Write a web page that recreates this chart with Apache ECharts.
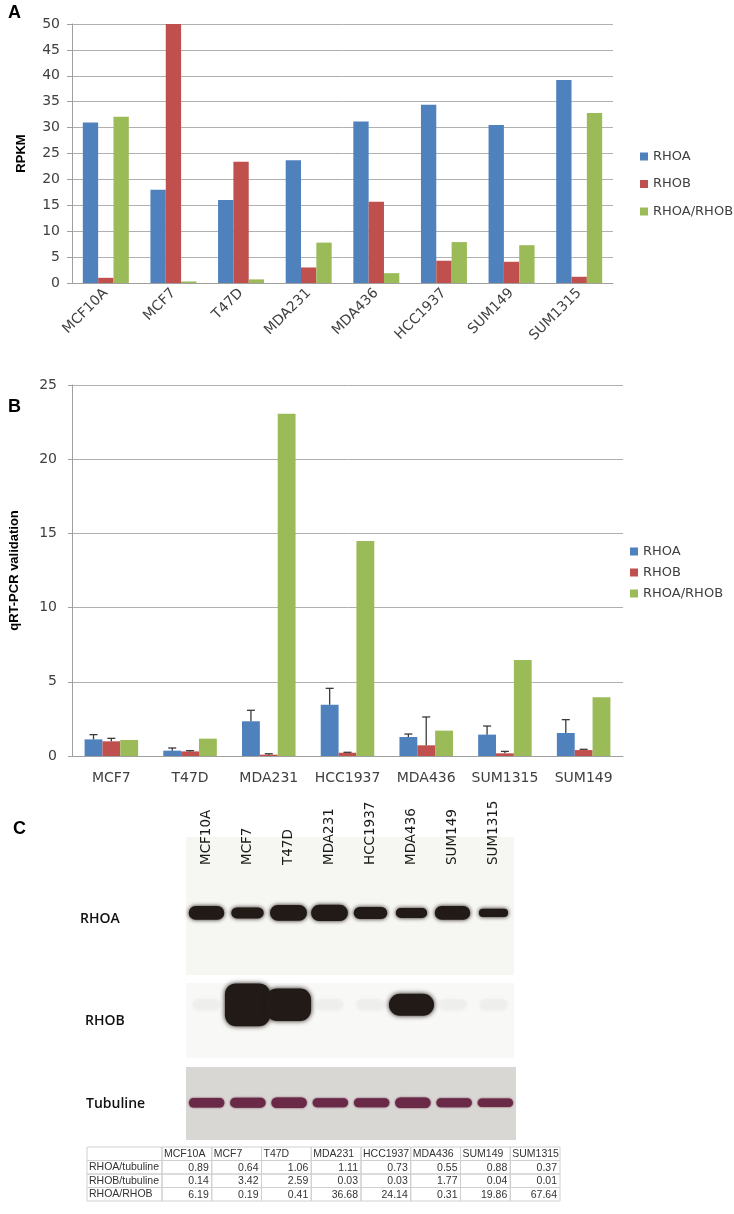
<!DOCTYPE html>
<html>
<head>
<meta charset="utf-8">
<script src="https://cdn.jsdelivr.net/npm/echarts@6/dist/echarts.min.js"></script>
<style>html,body{margin:0;padding:0;background:#fff}#c{width:734px;height:1214px}</style>
</head>
<body>
<div id="c"></div>
<script>
// ---------- Panel A : RNA-seq RPKM ----------
const cellLinesA = ['MCF10A','MCF7','T47D','MDA231','MDA436','HCC1937','SUM149','SUM1315'];
const rpkmRHOA  = [31.0, 18.0, 16.0, 23.7, 31.2, 34.4, 30.5, 39.2];
const rpkmRHOB  = [1.0, 50.0, 23.4, 3.0, 15.7, 4.3, 4.1, 1.2];
const rpkmRatio = [32.1, 0.3, 0.7, 7.8, 1.9, 7.9, 7.3, 32.8];

// ---------- Panel B : qRT-PCR validation ----------
const cellLinesB = ['MCF7','T47D','MDA231','HCC1937','MDA436','SUM1315','SUM149'];
const qpcrRHOA    = [1.12, 0.36, 2.34, 3.46, 1.28, 1.44, 1.55];
const qpcrRHOAerr = [0.32, 0.18, 0.74, 1.10, 0.20, 0.58, 0.90];
const qpcrRHOB    = [0.99, 0.31, 0.09, 0.22, 0.72, 0.18, 0.40];
const qpcrRHOBerr = [0.20, 0.05, 0.06, 0.03, 1.91, 0.13, 0.05];
const qpcrRatio   = [1.08, 1.17, 23.07, 14.48, 1.71, 6.47, 3.96];

// ---------- Panel C : western blot quantification ----------
const blotLanes    = ['MCF10A','MCF7','T47D','MDA231','HCC1937','MDA436','SUM149','SUM1315'];
const rhoaTubulin  = [0.89, 0.64, 1.06, 1.11, 0.73, 0.55, 0.88, 0.37];
const rhobTubulin  = [0.14, 3.42, 2.59, 0.03, 0.03, 1.77, 0.04, 0.01];
const rhoaRhob     = [6.19, 0.19, 0.41, 36.68, 24.14, 0.31, 19.86, 67.64];
const tubulinLevel = [1.0, 1.05, 1.1, 0.95, 0.95, 1.1, 0.95, 0.9]; // estimated loading band strength
const tableRows    = ['RHOA/tubuline','RHOB/tubuline','RHOA/RHOB'];

const seriesNames = ['RHOA','RHOB','RHOA/RHOB'];
const COLORS = ['#4F81BD','#C0504D','#9BBB59'];
const TICK_FONT = 'DejaVu Sans';
const AXIS_TEXT = '#404040';
const GRID_LINE = '#b0b0b0';

const chart = echarts.init(document.getElementById('c'), null, {renderer:'canvas'});

function errorRender(offset){
  return function(params, api){
    const cat = api.value(0), m = api.value(1), e = api.value(2);
    const band = api.size([1,0])[0];
    const bw = band*0.68/3;
    const cx = api.coord([cat,0])[0] + offset*bw;
    const y1 = api.coord([cat,m])[1];
    const y2 = api.coord([cat,m+e])[1];
    const st = {stroke:'#3a3a3a', lineWidth:1.3};
    return {type:'group', children:[
      {type:'line', shape:{x1:cx,y1:y1,x2:cx,y2:y2}, style:st},
      {type:'line', shape:{x1:cx-4,y1:y2,x2:cx+4,y2:y2}, style:st}
    ]};
  };
}

function bandRender(kind){
  return function(params, api){
    const cs = params.coordSys;
    const i = api.value(0), v = api.value(1);
    const lane = api.size([1,0])[0];
    const cx = api.coord([i,0])[0];
    let w, h, cy, fill, op = 1, blur = 4, r;
    if (kind === 'rhoa'){
      h = 4 + 11*v; w = lane*(0.6 + 0.3*Math.min(v,1));
      cy = cs.y + cs.height*0.55; fill = '#221a16'; r = h/2;
    } else if (kind === 'rhob'){
      if (v >= 0.5){ h = 12.5*v; w = lane*1.1; op = 1; }
      else { h = 12; w = lane*0.7; op = 0.025; }
      cy = cs.y + cs.height*0.29; fill = '#221a16'; r = Math.min(h/2, 11); blur = 5;
    } else {
      h = 9.5*v; w = lane*0.86; cy = cs.y + cs.height*0.49; fill = '#6a2a47'; blur = 2; r = h/2;
    }
    return {type:'rect', shape:{x:cx-w/2, y:cy-h/2, width:w, height:h, r:r},
      style:{fill:fill, opacity:op, shadowBlur:blur, shadowColor:fill}};
  };
}

const tableCells = [];
blotLanes.forEach((n,c)=>tableCells.push({c:c, r:0, text:n, head:true}));
[rhoaTubulin, rhobTubulin, rhoaRhob].forEach((arr,ri)=>arr.forEach((v,c)=>tableCells.push({c:c, r:ri+1, text:v.toFixed(2), head:false})));

function tableRender(params, api){
  const cell = tableCells[params.dataIndex];
  const p = api.coord([cell.c, cell.r]);
  const s = api.size([1,1]);
  const x = p[0]-s[0]/2, y = p[1]-s[1]/2;
  const kids = [{type:'rect', shape:{x:x,y:y,width:s[0],height:s[1]}, style:{fill:'none', stroke:'#d0d0d0', lineWidth:1}}];
  if (cell.c === 0){
    kids.push({type:'rect', shape:{x:x-75,y:y,width:75,height:s[1]}, style:{fill:'none', stroke:'#d0d0d0', lineWidth:1}});
  }
  kids.push({type:'text', style:{text:cell.text, x: cell.head ? x+2 : x+s[0]-3, y:p[1]+0.5,
    align: cell.head ? 'left':'right', verticalAlign:'middle', font:'10.5px "Liberation Sans"', fill:'#333'}});
  return {type:'group', children:kids};
}

const option = {
  backgroundColor:'#fff',
  animation:false,
  color: COLORS,
  grid:[
    {left:72, top:24, width:541, height:259},
    {left:63, top:385, width:560, height:371},
    {left:186, top:837, width:328, height:138, show:true, backgroundColor:'#f6f6f3', borderWidth:0},
    {left:186, top:983, width:328, height:75, show:true, backgroundColor:'#f8f8f6', borderWidth:0},
    {left:186, top:1067, width:330, height:73, show:true, backgroundColor:'#d8d7d4', borderWidth:0},
    {left:162, top:1147, width:398, height:54}
  ],
  legend:[
    {data:seriesNames, orient:'vertical', left:640, top:150, padding:0, itemWidth:8, itemHeight:8, itemGap:14.5, icon:'rect',
     textStyle:{fontFamily:TICK_FONT, fontSize:13, color:AXIS_TEXT}},
    {data:seriesNames, orient:'vertical', left:630, top:545, padding:0, itemWidth:8, itemHeight:8, itemGap:8, icon:'rect',
     textStyle:{fontFamily:TICK_FONT, fontSize:13, color:AXIS_TEXT}}
  ],
  xAxis:[
    {gridIndex:0, type:'category', data:cellLinesA,
     axisLine:{lineStyle:{color:'#a0a0a0'}}, axisTick:{length:5, lineStyle:{color:'#a0a0a0'}},
     axisLabel:{interval:0, rotate:45, margin:8, fontFamily:TICK_FONT, fontSize:14, color:AXIS_TEXT}},
    {gridIndex:1, type:'category', data:cellLinesB,
     axisLine:{lineStyle:{color:'#a0a0a0'}}, axisTick:{length:5, lineStyle:{color:'#a0a0a0'}},
     axisLabel:{interval:0, margin:15, fontFamily:TICK_FONT, fontSize:14, color:AXIS_TEXT}},
    {gridIndex:2, type:'category', data:blotLanes, position:'top', offset:-30,
     axisLine:{show:false}, axisTick:{show:false},
     axisLabel:{interval:0, rotate:90, margin:2, fontFamily:'DejaVu Sans', fontSize:13.5, color:'#1a1a1a'}},
    {gridIndex:3, type:'category', data:blotLanes, show:false},
    {gridIndex:4, type:'category', data:blotLanes, show:false},
    {gridIndex:5, type:'category', data:blotLanes, show:false}
  ],
  yAxis:[
    {gridIndex:0, type:'value', min:0, max:50, interval:5,
     name:'RPKM', nameLocation:'middle', nameGap:44, nameTextStyle:{fontFamily:'Liberation Sans', fontWeight:'bold', fontSize:13, color:'#000'},
     axisLine:{show:true, lineStyle:{color:'#a0a0a0'}}, axisTick:{show:true, length:5, lineStyle:{color:'#a0a0a0'}},
     splitLine:{lineStyle:{color:GRID_LINE}},
     axisLabel:{margin:12, fontFamily:TICK_FONT, fontSize:14, color:AXIS_TEXT}},
    {gridIndex:1, type:'value', min:0, max:25, interval:5,
     name:'qRT-PCR validation', nameLocation:'middle', nameGap:51, nameTextStyle:{fontFamily:'Liberation Sans', fontWeight:'bold', fontSize:13, color:'#000'},
     axisLine:{show:true, lineStyle:{color:'#a0a0a0'}}, axisTick:{show:true, length:4, lineStyle:{color:'#a0a0a0'}},
     splitLine:{lineStyle:{color:GRID_LINE}},
     axisLabel:{margin:15, fontFamily:TICK_FONT, fontSize:14, color:AXIS_TEXT}},
    {gridIndex:2, type:'value', min:0, max:1, show:false},
    {gridIndex:3, type:'value', min:0, max:1, show:false},
    {gridIndex:4, type:'value', min:0, max:1, show:false},
    {gridIndex:5, type:'category', data:[''].concat(tableRows), inverse:true,
     axisLine:{show:false}, axisTick:{show:false},
     axisLabel:{interval:0, align:'left', margin:73, fontFamily:'Liberation Sans', fontSize:10.5, color:'#333'}}
  ],
  series:[
    {name:'RHOA', type:'bar', xAxisIndex:0, yAxisIndex:0, data:rpkmRHOA, barGap:'0%', barCategoryGap:'32%', itemStyle:{color:COLORS[0]}},
    {name:'RHOB', type:'bar', xAxisIndex:0, yAxisIndex:0, data:rpkmRHOB, barGap:'0%', barCategoryGap:'32%', itemStyle:{color:COLORS[1]}},
    {name:'RHOA/RHOB', type:'bar', xAxisIndex:0, yAxisIndex:0, data:rpkmRatio, barGap:'0%', barCategoryGap:'32%', itemStyle:{color:COLORS[2]}},

    {name:'RHOA', type:'bar', xAxisIndex:1, yAxisIndex:1, data:qpcrRHOA, barGap:'0%', barCategoryGap:'32%', itemStyle:{color:COLORS[0]}},
    {name:'RHOB', type:'bar', xAxisIndex:1, yAxisIndex:1, data:qpcrRHOB, barGap:'0%', barCategoryGap:'32%', itemStyle:{color:COLORS[1]}},
    {name:'RHOA/RHOB', type:'bar', xAxisIndex:1, yAxisIndex:1, data:qpcrRatio, barGap:'0%', barCategoryGap:'32%', itemStyle:{color:COLORS[2]}},
    {name:'errRHOA', type:'custom', xAxisIndex:1, yAxisIndex:1, renderItem:errorRender(-1), encode:{x:0, y:[1,2]},
     data:qpcrRHOA.map((v,i)=>[i, v, qpcrRHOAerr[i]]), z:3},
    {name:'errRHOB', type:'custom', xAxisIndex:1, yAxisIndex:1, renderItem:errorRender(0), encode:{x:0, y:[1,2]},
     data:qpcrRHOB.map((v,i)=>[i, v, qpcrRHOBerr[i]]), z:3},

    {name:'blotRHOA', type:'custom', xAxisIndex:2, yAxisIndex:2, renderItem:bandRender('rhoa'), encode:{x:0, y:1},
     data:rhoaTubulin.map((v,i)=>[i, v])},
    {name:'blotRHOB', type:'custom', xAxisIndex:3, yAxisIndex:3, renderItem:bandRender('rhob'), encode:{x:0, y:1},
     data:rhobTubulin.map((v,i)=>[i, v])},
    {name:'blotTub', type:'custom', xAxisIndex:4, yAxisIndex:4, renderItem:bandRender('tub'), encode:{x:0, y:1},
     data:tubulinLevel.map((v,i)=>[i, v])},
    {name:'table', type:'custom', xAxisIndex:5, yAxisIndex:5, renderItem:tableRender, encode:{x:0, y:1},
     data:tableCells.map(d=>[d.c, d.r])}
  ],
  graphic:[
    {type:'text', x:8, y:13, style:{text:'A', font:'bold 18px "Liberation Sans"', fill:'#000', verticalAlign:'middle'}},
    {type:'text', x:8, y:407, style:{text:'B', font:'bold 18px "Liberation Sans"', fill:'#000', verticalAlign:'middle'}},
    {type:'text', x:13, y:829, style:{text:'C', font:'bold 18px "Liberation Sans"', fill:'#000', verticalAlign:'middle'}},
    {type:'text', x:80, y:919, style:{text:'RHOA', font:'600 14px "Open Sans"', fill:'#111', verticalAlign:'middle'}},
    {type:'text', x:85, y:1021, style:{text:'RHOB', font:'600 14px "Open Sans"', fill:'#111', verticalAlign:'middle'}},
    {type:'text', x:86, y:1104, style:{text:'Tubuline', font:'600 14px "Open Sans"', fill:'#111', verticalAlign:'middle'}}
  ]
};
chart.setOption(option);
</script>
</body>
</html>
